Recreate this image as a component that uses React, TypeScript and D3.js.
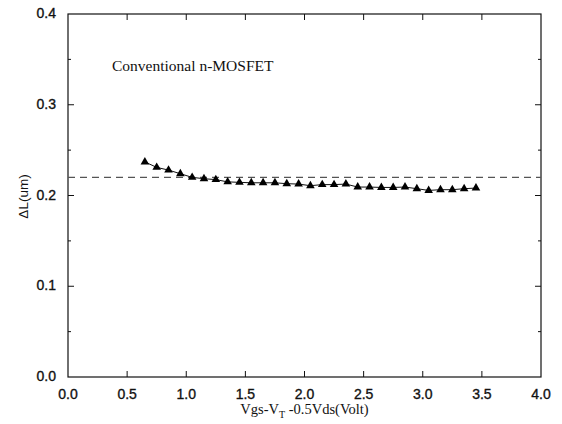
import React, { useEffect, useRef } from 'react';
import * as d3 from 'd3';

const width = 562,
      height = 424;

const margin = { left: 68, right: 21, top: 14, bottom: 47 };

// Vgs - VT - 0.5Vds (Volt)
const vgs = [
    0.65, 0.75, 0.85, 0.95, 1.05, 1.15, 1.25, 1.35, 1.45, 1.55,
    1.65, 1.75, 1.85, 1.95, 2.05, 2.15, 2.25, 2.35, 2.45, 2.55,
    2.65, 2.75, 2.85, 2.95, 3.05, 3.15, 3.25, 3.35, 3.45,
];
// delta L (um)
const deltaL = [
    0.237, 0.231, 0.228, 0.224, 0.220, 0.2185, 0.2175, 0.215, 0.2145, 0.214,
    0.214, 0.214, 0.213, 0.2126, 0.2108, 0.212, 0.212, 0.2126, 0.2093, 0.2093,
    0.2089, 0.2089, 0.2093, 0.2075, 0.2056, 0.2064, 0.2064, 0.2075, 0.2082,
];
const refLevel = 0.22;
const xTicks = [0, 0.5, 1, 1.5, 2, 2.5, 3, 3.5, 4];
const yTicks = [0, 0.1, 0.2, 0.3, 0.4];
const yMinorTicks = [0.05, 0.15, 0.25, 0.35];

const App = () => {
    const ref = useRef<SVGSVGElement>(null);

    useEffect(() => {
        const svg = d3.select(ref.current);
        svg.selectAll('*').remove();

        const x = d3.scaleLinear().domain([0, 4]).range([margin.left, width - margin.right]);
        const y = d3.scaleLinear().domain([0, 0.4]).range([height - margin.bottom, margin.top]);

        const sans = 'Liberation Sans, Arial, Helvetica, sans-serif';
        const serif = 'Liberation Serif, Times New Roman, serif';

        // frame
        svg.append('rect')
            .attr('x', x(0)).attr('y', y(0.4))
            .attr('width', x(4) - x(0)).attr('height', y(0) - y(0.4))
            .attr('fill', 'none').attr('stroke', '#111').attr('stroke-width', 1.2);

        // inward ticks on all four sides
        const tk = svg.append('g').attr('stroke', '#111').attr('stroke-width', 1);
        xTicks.slice(1, -1).forEach(t => {
            tk.append('line').attr('x1', x(t)).attr('x2', x(t)).attr('y1', y(0)).attr('y2', y(0) - 6);
            tk.append('line').attr('x1', x(t)).attr('x2', x(t)).attr('y1', y(0.4)).attr('y2', y(0.4) + 6);
        });
        yTicks.slice(1, -1).forEach(t => {
            tk.append('line').attr('x1', x(0)).attr('x2', x(0) + 6).attr('y1', y(t)).attr('y2', y(t));
            tk.append('line').attr('x1', x(4)).attr('x2', x(4) - 6).attr('y1', y(t)).attr('y2', y(t));
        });
        yMinorTicks.forEach(t => {
            tk.append('line').attr('x1', x(0)).attr('x2', x(0) + 3).attr('y1', y(t)).attr('y2', y(t));
            tk.append('line').attr('x1', x(4)).attr('x2', x(4) - 3).attr('y1', y(t)).attr('y2', y(t));
        });

        // tick labels
        svg.append('g').selectAll('text').data(xTicks).enter().append('text')
            .attr('x', d => x(d)).attr('y', y(0) + 22)
            .attr('text-anchor', 'middle')
            .attr('font-family', sans).attr('font-size', 14).attr('fill', '#111')
            .attr('stroke', '#111').attr('stroke-width', 0.35)
            .text(d => d.toFixed(1));
        svg.append('g').selectAll('text').data(yTicks).enter().append('text')
            .attr('x', x(0) - 12).attr('y', d => y(d) + 4)
            .attr('text-anchor', 'end')
            .attr('font-family', sans).attr('font-size', 14).attr('fill', '#111')
            .attr('stroke', '#111').attr('stroke-width', 0.35)
            .text(d => d.toFixed(1));

        // dashed reference
        svg.append('line')
            .attr('x1', x(0)).attr('x2', x(4))
            .attr('y1', y(refLevel)).attr('y2', y(refLevel))
            .attr('stroke', '#555').attr('stroke-width', 1.2)
            .attr('stroke-dasharray', '7,5');

        // data
        const line = d3.line<number>().x((d, i) => x(vgs[i])).y(d => y(d));
        svg.append('path').datum(deltaL)
            .attr('d', line).attr('fill', 'none')
            .attr('stroke', '#111').attr('stroke-width', 1);

        const tri = d3.symbol().type(d3.symbolTriangle).size(32);
        svg.append('g').selectAll('path').data(deltaL).enter().append('path')
            .attr('d', tri)
            .attr('transform', (d, i) => `translate(${x(vgs[i])},${y(d)})`)
            .attr('fill', '#000');

        // annotation
        svg.append('text')
            .attr('x', 112).attr('y', 71)
            .attr('font-family', serif).attr('font-size', 15.5).attr('fill', '#111')
            .text('Conventional n-MOSFET');

        // axis titles
        const xt = svg.append('text')
            .attr('x', (x(0) + x(4)) / 2).attr('y', 414)
            .attr('text-anchor', 'middle')
            .attr('font-family', serif).attr('font-size', 14.5).attr('fill', '#111');
        xt.append('tspan').text('Vgs-V');
        xt.append('tspan').attr('font-size', 10).attr('dy', 4).text('T');
        xt.append('tspan').attr('dy', -4).text(' -0.5Vds(Volt)');

        svg.append('text')
            .attr('transform', `translate(28,${y(0.2) + 1}) rotate(-90)`)
            .attr('text-anchor', 'middle')
            .attr('font-family', sans).attr('font-size', 13.5).attr('fill', '#111')
            .text('\u0394L(um)');
    }, []);

    return (
        <svg ref={ref} width={width} height={height}
             style={{ position: 'absolute', left: 0, top: 0, background: '#fff' }} />
    );
};

export default App;
